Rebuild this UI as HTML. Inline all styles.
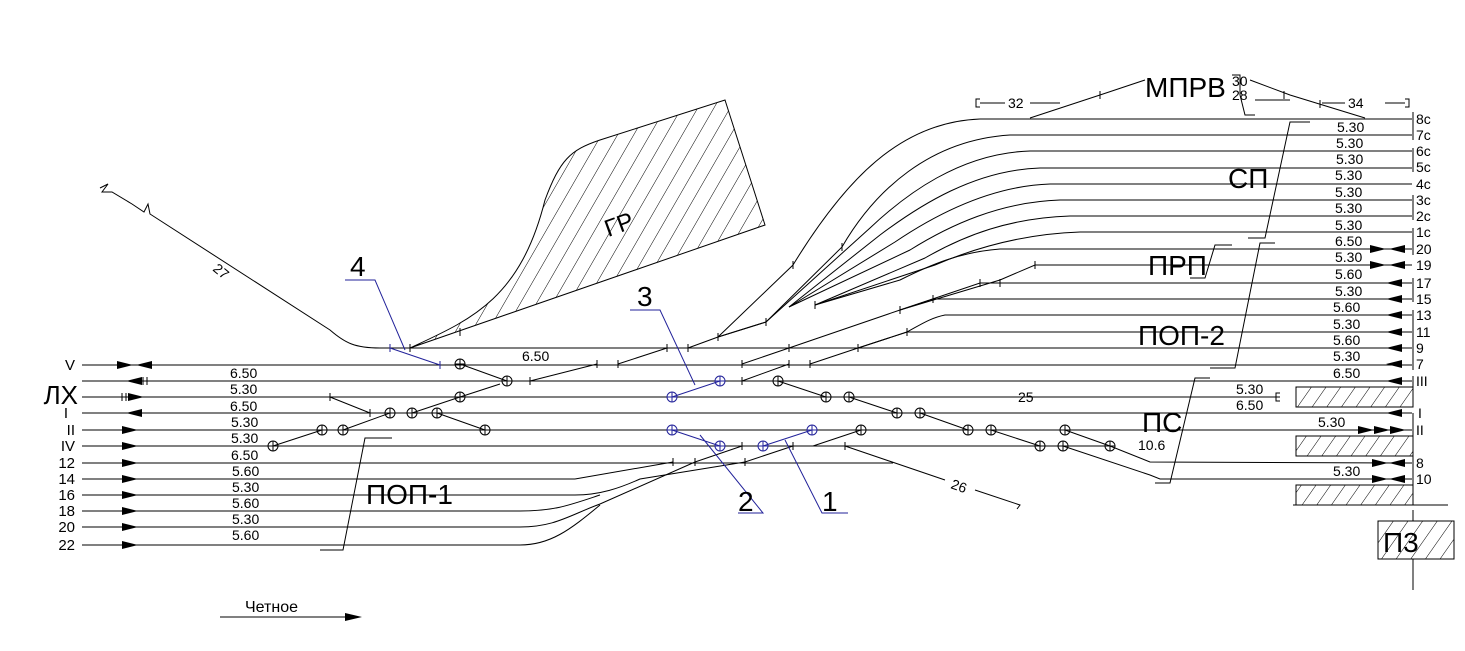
<!DOCTYPE html>
<html><head><meta charset="utf-8"><style>
html,body{margin:0;padding:0;background:#fff;}
svg{display:block;}
text{font-family:"Liberation Sans",sans-serif;fill:#000;}
</style></head><body>
<svg width="1465" height="651" viewBox="0 0 1465 651" xmlns="http://www.w3.org/2000/svg">
<defs>
<pattern id="h" width="14" height="14" patternUnits="userSpaceOnUse" patternTransform="rotate(30)">
<line x1="0" y1="0" x2="0" y2="14" stroke="#000" stroke-width="1"/></pattern>
<pattern id="h2" width="12" height="12" patternUnits="userSpaceOnUse" patternTransform="rotate(35)">
<line x1="0" y1="0" x2="0" y2="12" stroke="#000" stroke-width="1"/></pattern>
<g id="c"><circle r="5" fill="none" stroke="#000"/><line x1="-5" y1="0" x2="5" y2="0" stroke="#000"/><line x1="0" y1="-5" x2="0" y2="5" stroke="#000"/></g>
<g id="cb"><circle r="5" fill="none" stroke="#22229a"/><line x1="-5" y1="0" x2="5" y2="0" stroke="#22229a"/><line x1="0" y1="-5" x2="0" y2="5" stroke="#22229a"/></g>
<g id="ar"><polygon points="0,-4 16,0 0,4" fill="#000"/></g>
<g id="al"><polygon points="0,-4 -16,0 0,4" fill="#000"/></g>
</defs>
<g stroke="#000" stroke-width="1" fill="none">
<line x1="82" y1="365" x2="1412" y2="365"/>
<line x1="82" y1="381" x2="1412" y2="381"/>
<line x1="82" y1="397" x2="1280" y2="397"/>
<path d="M1280 393 h-4 v8 h4"/>
<line x1="82" y1="413" x2="1412" y2="413"/>
<line x1="82" y1="430" x2="1412" y2="430"/>
<line x1="82" y1="446" x2="1110" y2="446"/>
<line x1="82" y1="463" x2="893" y2="463"/>
<line x1="82" y1="479" x2="575" y2="479"/>
<line x1="82" y1="495" x2="575" y2="495"/>
<line x1="82" y1="511" x2="520" y2="511"/>
<line x1="82" y1="527" x2="520" y2="527"/>
<line x1="82" y1="545" x2="520" y2="545"/>
<path d="M575 479 L673 462"/>
<path d="M575 495 C600 495 620 488 640 479 L745 462"/>
<path d="M520 511 C555 511 570 505 600 495"/>
<path d="M520 527 C555 527 570 515 600 504 L695 462"/>
<path d="M520 545 C550 545 570 530 600 505"/>
<path d="M100 188 l8 -4 l-6 8 l10 0 l20 12 l12 8 l4 -8 l2 10 L330 330 C345 343 355 348 380 348 L1412 348"/>
<!-- right sidings fan -->
<line x1="980" y1="119" x2="1412" y2="119"/>
<path d="M980 119 C900 122 845 180 793 265 L718 337"/>
<path d="M1412 135 L1010 135 C930 140 875 190 842 247 L766 322 L718 337"/>
<path d="M1412 151 L1030 151 C960 153 905 195 870 228 L766 322"/>
<path d="M1412 168 L1040 168 C975 170 920 205 880 235 L789 307"/>
<path d="M1412 184 L1050 184 C990 186 935 215 895 242 L789 307"/>
<path d="M1412 200 L1060 200 C1000 202 950 225 910 250 L789 307"/>
<path d="M1412 216 L1070 216 C1010 218 965 235 925 258 L815 305"/>
<path d="M1412 232 L1080 232 C1020 234 970 250 935 265 L815 305"/>
<path d="M1412 249 L1000 249 C960 252 930 265 900 280 L815 305"/>
<path d="M1412 265 L1035 265 L1000 280 L900 310"/>
<path d="M1412 283 L980 283 L900 310 L789 348"/>
<path d="M1412 299 L933 299 L900 310"/>
<path d="M1412 315 L945 315 C930 318 920 325 907 332 L858 348"/>
<path d="M1412 332 L907 332"/>
<path d="M718 337 L766 322"/>
<path d="M742 364 L789 348"/>
<path d="M742 381 L789 364"/>
<path d="M810 364 L858 348 L907 332"/>
<path d="M530 381 L597 364"/>
<path d="M618 364 L667 348"/>
<path d="M688 348 L718 337"/>
<path d="M695 462 L742 446"/>
<path d="M745 462 L793 446"/>
<path d="M813 446 L861 430"/>
<path d="M845 446 L945 480 M975 490 L1020 505 l-3 4"/>
<path d="M778 381 L826 397 M849 397 L897 413 M920 413 L968 430 M991 430 L1040 446 M1065 430 L1110 446 L1150 462 L1412 463 M1063 446 L1150 475 L1160 479 L1412 479"/>
<path d="M460 364 L507 381 M273 446 L322 430 M343 430 L390 413 M437 413 L485 430 M412 413 L460 397 L500 384 M330 397 L370 413"/>
<path d="M597 360v8 M618 360v8 M667 344v8 M688 344v8 M742 360v8 M789 360v8 M810 360v8 M858 344v8 M742 377v8 M789 344v8 M530 377v8 M330 393v8 M370 409v8 M673 458v8 M695 458v8 M742 442v8 M745 458v8 M793 442v8 M845 442v8 M907 328v8 M1000 279v8 M1035 261v8 M980 279v8 M933 295v8 M793 261v8 M842 243v8 M766 318v8 M815 301v8 M900 306v8 M718 333v8 M410 344v8 M460 328v8"/>
<path d="M410 348 C470 320 520 300 545 200 C560 160 570 150 600 140 L725 100 L765 225 Z" fill="url(#h)"/>
<path d="M980 99 h-4 v8 h4 M980 103 H1005 M1030 103 H1060 M1030 118 L1100 95 L1145 80 M1232 75 h8 v20 M1240 95 l5 20 h10 M1250 80 L1290 95 L1365 118 M1255 100 H1290 M1322 103 H1345 M1385 103 H1405 M1405 99 h4 v8 h-4 M1320 100 v8 M1100 91v8 M1284 91v8"/>
<path d="M1310 122 H1290 L1265 238 H1248"/>
<path d="M1232 245 H1215 L1205 278 H1190"/>
<path d="M1275 243 H1260 L1235 368 H1210"/>
<path d="M1210 378 H1195 L1170 483 H1155"/>
<path d="M392 438 H365 L343 550 H320"/>
<path d="M1413 112V140 M1413 148V172 M1413 195V220 M1413 228V255 M1413 278V302 M1413 310V370 M1413 376V407 M1413 413V436 M1413 456V505 M1413 510V521 M1413 559V590"/>
<rect x="1296" y="387" width="117" height="20" fill="url(#h2)"/>
<rect x="1296" y="436" width="117" height="20" fill="url(#h2)"/>
<rect x="1296" y="485" width="117" height="20" fill="url(#h2)"/>
<line x1="1293" y1="505" x2="1448" y2="505"/>
<rect x="1378" y="521" width="76" height="38" fill="url(#h2)"/>
<line x1="220" y1="617" x2="345" y2="617"/>
<path d="M143 377v8 M147 377v8 M122 393v8 M126 393v8"/>
</g>
<polygon points="345,613 362,617 345,621" fill="#000"/>
<g stroke="#22229a" stroke-width="1" fill="none">
<path d="M345 280 H375 L405 350 M390 348 L440 365 M390 344v8 M440 361v8"/>
<path d="M630 310 H660 L695 385 M672 397 L720 381"/>
<path d="M738 513 H763 L700 435 M672 430 L720 446"/>
<path d="M848 513 H822 L785 440 M763 446 L812 430"/>
</g>
<g font-size="28">
<text x="350" y="276" fill="#22229a">4</text>
<text x="637" y="306" fill="#22229a">3</text>
<text x="738" y="511" fill="#22229a">2</text>
<text x="822" y="511" fill="#22229a">1</text>
</g>
<use href="#cb" x="672" y="397"/><use href="#cb" x="720" y="381"/>
<use href="#cb" x="672" y="430"/><use href="#cb" x="720" y="446"/>
<use href="#cb" x="763" y="446"/><use href="#cb" x="812" y="430"/>
<g>
<use href="#c" x="460" y="364"/><use href="#c" x="507" y="381"/><use href="#c" x="460" y="397"/>
<use href="#c" x="390" y="413"/><use href="#c" x="412" y="413"/><use href="#c" x="437" y="413"/>
<use href="#c" x="485" y="430"/><use href="#c" x="322" y="430"/><use href="#c" x="343" y="430"/>
<use href="#c" x="273" y="446"/><use href="#c" x="778" y="381"/><use href="#c" x="826" y="397"/>
<use href="#c" x="849" y="397"/><use href="#c" x="897" y="413"/><use href="#c" x="920" y="413"/>
<use href="#c" x="968" y="430"/><use href="#c" x="991" y="430"/><use href="#c" x="1040" y="446"/>
<use href="#c" x="1063" y="446"/><use href="#c" x="1065" y="430"/><use href="#c" x="1110" y="446"/>
<use href="#c" x="861" y="430"/>
</g>
<use href="#ar" x="117" y="365"/><use href="#al" x="152" y="365"/>
<use href="#al" x="142" y="381"/><use href="#ar" x="128" y="397"/>
<use href="#al" x="142" y="413"/>
<use href="#ar" x="122" y="430"/><use href="#ar" x="122" y="446"/><use href="#ar" x="122" y="463"/>
<use href="#ar" x="122" y="479"/><use href="#ar" x="122" y="495"/><use href="#ar" x="122" y="511"/>
<use href="#ar" x="122" y="527"/><use href="#ar" x="122" y="545"/>
<use href="#ar" x="1370" y="249"/><use href="#al" x="1405" y="249"/>
<use href="#ar" x="1370" y="265"/><use href="#al" x="1405" y="265"/>
<use href="#al" x="1402" y="283"/><use href="#al" x="1402" y="299"/><use href="#al" x="1402" y="315"/>
<use href="#al" x="1402" y="332"/><use href="#al" x="1402" y="348"/><use href="#al" x="1402" y="364"/>
<use href="#al" x="1402" y="381"/><use href="#al" x="1402" y="413"/>
<use href="#ar" x="1358" y="430"/><use href="#ar" x="1374" y="430"/><use href="#ar" x="1390" y="430"/>
<use href="#ar" x="1372" y="463"/><use href="#al" x="1405" y="463"/>
<use href="#ar" x="1372" y="479"/><use href="#al" x="1405" y="479"/>
<g font-size="15" text-anchor="end">
<text x="75" y="370">V</text>
<text x="78" y="404" font-size="26">ЛХ</text>
<text x="68" y="418">I</text>
<text x="75" y="435">II</text>
<text x="75" y="451">IV</text>
<text x="75" y="468">12</text>
<text x="75" y="484">14</text>
<text x="75" y="500">16</text>
<text x="75" y="516">18</text>
<text x="75" y="532">20</text>
<text x="75" y="550">22</text>
</g>
<g font-size="14">
<text x="230" y="378">6.50</text><text x="230" y="394">5.30</text>
<text x="230" y="411">6.50</text><text x="231" y="427">5.30</text>
<text x="231" y="443">5.30</text><text x="231" y="460">6.50</text>
<text x="232" y="476">5.60</text><text x="232" y="492">5.30</text>
<text x="232" y="508">5.60</text><text x="232" y="524">5.30</text>
<text x="232" y="540">5.60</text>
<text x="522" y="361">6.50</text>
<text x="1337" y="132">5.30</text><text x="1336" y="148">5.30</text>
<text x="1336" y="164">5.30</text><text x="1335" y="180">5.30</text>
<text x="1335" y="197">5.30</text><text x="1335" y="213">5.30</text>
<text x="1335" y="230">5.30</text><text x="1335" y="246">6.50</text>
<text x="1335" y="262">5.30</text><text x="1335" y="279">5.60</text>
<text x="1335" y="296">5.30</text><text x="1333" y="312">5.60</text>
<text x="1333" y="329">5.30</text><text x="1333" y="345">5.60</text>
<text x="1333" y="361">5.30</text><text x="1333" y="378">6.50</text>
<text x="1236" y="394">5.30</text><text x="1236" y="410">6.50</text>
<text x="1318" y="427">5.30</text><text x="1333" y="476">5.30</text>
<text x="1138" y="450">10.6</text>
<text x="1018" y="402">25</text>
<text x="1008" y="108">32</text>
<text x="1348" y="108">34</text>
<text x="1232" y="86">30</text>
<text x="1232" y="100">28</text>
<text x="950" y="488" transform="rotate(20 950 488)">26</text>
<text x="212" y="270" transform="rotate(40 212 270)">27</text>
<text x="245" y="612" font-size="16">Четное</text>
</g>
<g font-size="14">
<text x="1416" y="124">8c</text><text x="1416" y="140">7c</text><text x="1416" y="156">6c</text>
<text x="1416" y="172">5c</text><text x="1416" y="189">4c</text><text x="1416" y="205">3c</text>
<text x="1416" y="221">2c</text><text x="1416" y="237">1c</text><text x="1416" y="254">20</text>
<text x="1416" y="270">19</text><text x="1416" y="288">17</text><text x="1416" y="304">15</text>
<text x="1416" y="320">13</text><text x="1416" y="337">11</text><text x="1416" y="353">9</text>
<text x="1416" y="369">7</text><text x="1416" y="386">III</text><text x="1418" y="418">I</text>
<text x="1416" y="435">II</text><text x="1416" y="468">8</text><text x="1416" y="484">10</text>
</g>
<g font-size="28">
<text x="1145" y="97">МПРВ</text>
<text x="1228" y="188">СП</text>
<text x="1148" y="275">ПРП</text>
<text x="1138" y="345">ПОП-2</text>
<text x="1142" y="432">ПС</text>
<text x="366" y="504">ПОП-1</text>
<text x="1383" y="552">П3</text>
<text x="603" y="232" font-size="24" transform="rotate(-20 620 220)">ГР</text>
</g>
</svg>
</body></html>
